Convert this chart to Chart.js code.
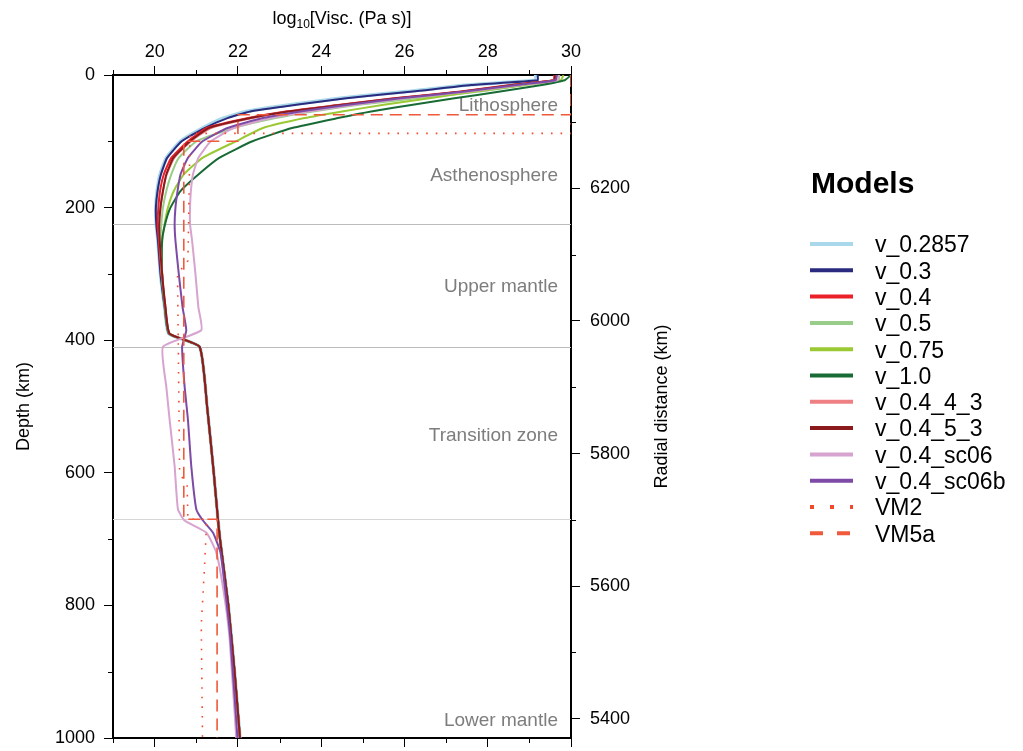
<!DOCTYPE html>
<html>
<head>
<meta charset="utf-8">
<title>Viscosity profiles</title>
<script src="https://cdn.jsdelivr.net/npm/chart.js@4.4.1/dist/chart.umd.min.js"></script>
<style>
  html, body { margin: 0; padding: 0; background: #fff; }
  #wrap { width: 1023px; height: 751px; }
</style>
</head>
<body>
<div id="wrap"><canvas id="chart" width="1023" height="751"></canvas></div>
<script>
const FONT = '"Liberation Sans", Arial, Helvetica, sans-serif';

// depth samples (km) for the plain v_ models
const depthV = [0, 8, 15, 25, 35, 45, 55, 65, 80, 100, 125, 150, 175, 200, 225,
                250, 300, 350, 390, 410, 500, 600, 670, 700, 800, 900, 1000];

// log10 viscosity (Pa s) at each depthV sample
const v0_2857  = [29.15, 29.15, 27.5, 26.05, 24.45, 23.25, 22.2, 21.65, 21.15, 20.62, 20.28, 20.13, 20.06, 20.03, 20.04,
                  20.08, 20.14, 20.24, 20.34, 21.08, 21.26, 21.42, 21.52, 21.57, 21.77, 21.92, 22.05];
const v0_3     = [29.2, 29.2, 27.6, 26.2, 24.6, 23.4, 22.3, 21.75, 21.2, 20.65, 20.3, 20.15, 20.07, 20.03, 20.04,
                  20.08, 20.14, 20.24, 20.34, 21.08, 21.26, 21.42, 21.52, 21.57, 21.77, 21.92, 22.05];
const v0_4     = [29.6, 29.58, 28.55, 27.35, 25.75, 24.45, 23.15, 22.25, 21.25, 20.8, 20.4, 20.22, 20.13, 20.09, 20.07,
                  20.1, 20.16, 20.25, 20.35, 21.08, 21.26, 21.42, 21.52, 21.57, 21.77, 21.92, 22.05];
const v0_5     = [29.72, 29.7, 28.9, 27.8, 26.3, 24.9, 23.8, 22.9, 21.9, 21.0, 20.58, 20.4, 20.28, 20.2, 20.16,
                  20.14, 20.17, 20.25, 20.35, 21.08, 21.26, 21.42, 21.52, 21.57, 21.77, 21.92, 22.05];
const v0_75    = [29.82, 29.75, 28.9, 27.7, 26.6, 25.5, 24.5, 23.6, 22.6, 21.95, 21.15, 20.7, 20.46, 20.32, 20.24,
                  20.18, 20.18, 20.25, 20.35, 21.08, 21.26, 21.42, 21.52, 21.57, 21.77, 21.92, 22.05];
const v1_0     = [30.0, 29.85, 29.3, 28.3, 27.2, 26.2, 25.2, 24.4, 23.3, 22.35, 21.55, 21.05, 20.62, 20.38, 20.25,
                  20.18, 20.18, 20.25, 20.35, 21.08, 21.26, 21.42, 21.52, 21.57, 21.77, 21.92, 22.05];
const v0_4_4_3 = [29.64, 29.62, 28.65, 27.45, 25.85, 24.55, 23.25, 22.35, 21.35, 20.87, 20.47, 20.29, 20.2, 20.14, 20.11,
                  20.12, 20.18, 20.26, 20.36, 21.08, 21.26, 21.42, 21.52, 21.57, 21.77, 21.92, 22.05];
const v0_4_5_3 = [29.62, 29.6, 28.6, 27.4, 25.8, 24.5, 23.2, 22.3, 21.3, 20.85, 20.45, 20.28, 20.2, 20.14, 20.11,
                  20.12, 20.18, 20.26, 20.36, 21.08, 21.26, 21.42, 21.52, 21.57, 21.77, 21.92, 22.05];

// depth samples (km) for the sc06 variants
const depthSc = [0, 8, 15, 25, 35, 45, 55, 65, 80, 100, 125, 150, 175, 200, 225,
                 250, 300, 350, 385, 410, 470, 520, 590, 655, 672, 690, 720, 780, 850, 1000];
const v0_4_sc06  = [29.7, 29.68, 28.8, 27.55, 26.0, 24.8, 23.7, 22.8, 21.9, 21.35, 21.05, 20.92, 20.87, 20.85, 20.85,
                    20.9, 20.98, 21.05, 21.12, 20.2, 20.28, 20.36, 20.48, 20.56, 20.72, 21.24, 21.48, 21.66, 21.8, 21.96];
const v0_4_sc06b = [29.66, 29.63, 28.7, 27.45, 25.9, 24.65, 23.5, 22.6, 21.75, 21.15, 20.8, 20.62, 20.55, 20.5, 20.48,
                    20.5, 20.58, 20.67, 20.76, 20.66, 20.72, 20.8, 20.88, 21.0, 21.16, 21.4, 21.58, 21.7, 21.82, 21.99];

// reference profiles
const vm2Depth  = [0, 88, 88, 280, 300, 600, 620, 670, 670, 740, 830, 1000];
const vm2Visc   = [30, 30, 20.85, 20.8, 20.55, 20.6, 20.78, 20.8, 21.25, 21.2, 21.12, 21.15];
const vm5aDepth = [0, 60, 60, 100, 100, 670, 670, 1000];
const vm5aVisc  = [30, 30, 22, 22, 20.7, 20.7, 21.5, 21.5];

// axes
const viscTicks   = [20, 22, 24, 26, 28, 30];
const viscMinor   = [19, 21, 23, 25, 27, 29];
const depthTicks  = [0, 200, 400, 600, 800, 1000];
const depthMinor  = [100, 300, 500, 700, 900];
const radiusTicks = [6200, 6000, 5800, 5600, 5400];
const radiusMinor = [6300, 6100, 5900, 5700, 5500];
const earthRadius = 6371;

// layer boundaries (km) and layer names
const boundaryDepths = [224, 410, 670];
const regionNames = ['Lithosphere', 'Asthenosphere', 'Upper mantle', 'Transition zone', 'Lower mantle'];

const models = [
  { label: 'v_0.2857',    depth: depthV,    visc: v0_2857,    color: '#a9d8ea', width: 3.5 },
  { label: 'v_0.3',       depth: depthV,    visc: v0_3,       color: '#2a2b7f', width: 2 },
  { label: 'v_0.4',       depth: depthV,    visc: v0_4,       color: '#ea2128', width: 2 },
  { label: 'v_0.5',       depth: depthV,    visc: v0_5,       color: '#98ce89', width: 2 },
  { label: 'v_0.75',      depth: depthV,    visc: v0_75,      color: '#9ac934', width: 2 },
  { label: 'v_1.0',       depth: depthV,    visc: v1_0,       color: '#186b35', width: 2 },
  { label: 'v_0.4_4_3',   depth: depthV,    visc: v0_4_4_3,   color: '#ee8084', width: 2 },
  { label: 'v_0.4_5_3',   depth: depthV,    visc: v0_4_5_3,   color: '#8a1a1c', width: 2 },
  { label: 'v_0.4_sc06',  depth: depthSc,   visc: v0_4_sc06,  color: '#d7a3cf', width: 2 },
  { label: 'v_0.4_sc06b', depth: depthSc,   visc: v0_4_sc06b, color: '#7d4aa6', width: 2 },
  { label: 'VM2',         depth: vm2Depth,  visc: vm2Visc,    color: '#f2492c', width: 1.6, dash: [1.6, 8], legendDash: [4, 16] },
  { label: 'VM5a',        depth: vm5aDepth, visc: vm5aVisc,   color: '#f0593b', width: 1.6, dash: [12, 7], legendDash: [13, 14] }
];

const datasets = models.map((m, i) => ({
  label: m.label,
  data: m.depth.map((d, k) => ({ x: m.visc[k], y: d })),
  borderColor: m.color,
  backgroundColor: m.color,
  borderWidth: m.width,
  borderDash: m.dash || [],
  legendDash: m.legendDash || [],
  pointRadius: 0,
  tension: m.dash ? 0 : 0.15,
  fill: false,
  order: -i
}));

function tickOpts(len) {
  return { drawOnChartArea: false, drawTicks: true, tickLength: len, tickColor: '#000', tickWidth: 1 };
}

// fixed box size per axis, and no extra room for overhanging labels
function fixSize(dim, px) {
  return s => {
    s[dim] = px;
    s.paddingTop = s.paddingBottom = s.paddingLeft = s.paddingRight = 0;
  };
}

const decor = {
  id: 'decor',
  beforeDatasetsDraw(chart) {
    const { ctx, chartArea: a, scales } = chart;
    ctx.save();
    ctx.lineWidth = 1.2;
    boundaryDepths.forEach((d, i) => {
      const y = Math.round(scales.y.getPixelForValue(d)) + 0.5;
      ctx.strokeStyle = i === 2 ? '#d6d6d6' : '#bcbcbc';
      ctx.beginPath();
      ctx.moveTo(a.left, y);
      ctx.lineTo(a.right, y);
      ctx.stroke();
    });
    // layer names, baseline depths in km
    const nameDepths = [55, 160, 327, 552, 982];
    ctx.fillStyle = '#7d7d7d';
    ctx.font = '19px ' + FONT;
    ctx.textAlign = 'right';
    ctx.textBaseline = 'alphabetic';
    regionNames.forEach((name, i) => {
      ctx.fillText(name, a.right - 13, scales.y.getPixelForValue(nameDepths[i]));
    });
    ctx.restore();
  },
  afterDraw(chart) {
    const { ctx, chartArea: a, scales } = chart;
    ctx.save();
    // minor ticks
    ctx.strokeStyle = '#000';
    ctx.lineWidth = 1;
    ctx.beginPath();
    viscMinor.forEach(v => {
      const x = Math.round(scales.x.getPixelForValue(v)) + 0.5;
      ctx.moveTo(x, a.top); ctx.lineTo(x, a.top - 5);
      ctx.moveTo(x, a.bottom); ctx.lineTo(x, a.bottom + 5);
    });
    depthMinor.forEach(d => {
      const y = Math.round(scales.y.getPixelForValue(d)) + 0.5;
      ctx.moveTo(a.left, y); ctx.lineTo(a.left - 5, y);
    });
    radiusMinor.forEach(r => {
      const y = Math.round(scales.y.getPixelForValue(earthRadius - r)) + 0.5;
      ctx.moveTo(a.right, y); ctx.lineTo(a.right + 5, y);
    });
    ctx.stroke();

    // top axis title with subscript
    ctx.fillStyle = '#000';
    ctx.textBaseline = 'alphabetic';
    ctx.textAlign = 'left';
    const big = '18px ' + FONT, small = '12px ' + FONT;
    ctx.font = big;
    const w1 = ctx.measureText('log').width;
    const w3 = ctx.measureText('[Visc. (Pa s)]').width;
    ctx.font = small;
    const w2 = ctx.measureText('10').width;
    let x = (a.left + a.right) / 2 - (w1 + w2 + w3) / 2;
    const base = 24;
    ctx.font = big;
    ctx.fillText('log', x, base);
    x += w1;
    ctx.font = small;
    ctx.fillText('10', x, base + 4);
    x += w2;
    ctx.font = big;
    ctx.fillText('[Visc. (Pa s)]', x, base);

    // side titles
    const midY = (a.top + a.bottom) / 2;
    ctx.textAlign = 'center';
    ctx.textBaseline = 'middle';
    ctx.font = '18px ' + FONT;
    ctx.save();
    ctx.translate(24, midY);
    ctx.rotate(-Math.PI / 2);
    ctx.fillText('Depth (km)', 0, 0);
    ctx.restore();
    ctx.save();
    ctx.translate(662, midY);
    ctx.rotate(-Math.PI / 2);
    ctx.fillText('Radial distance (km)', 0, 0);
    ctx.restore();

    // legend
    ctx.textAlign = 'left';
    ctx.textBaseline = 'alphabetic';
    ctx.font = 'bold 30px ' + FONT;
    ctx.fillText('Models', 811, 193);
    ctx.font = '23px ' + FONT;
    chart.data.datasets.forEach((ds, i) => {
      const y = 244 + i * 26.3;
      ctx.strokeStyle = ds.borderColor;
      ctx.lineWidth = 4;
      ctx.setLineDash(ds.legendDash);
      ctx.beginPath();
      ctx.moveTo(810, y);
      ctx.lineTo(853, y);
      ctx.stroke();
      ctx.setLineDash([]);
      ctx.fillStyle = '#000';
      ctx.fillText(ds.label, 875, y + 8.3);
    });
    ctx.restore();
  }
};

new Chart(document.getElementById('chart'), {
  type: 'line',
  data: { datasets },
  options: {
    indexAxis: 'y',
    responsive: false,
    animation: false,
    devicePixelRatio: 1,
    layout: { padding: 0 },
    plugins: { legend: { display: false }, tooltip: { enabled: false } },
    scales: {
      x: {
        type: 'linear', position: 'top', min: 19, max: 30,
        afterBuildTicks: s => { s.ticks = viscTicks.map(v => ({ value: v })); },
        afterFit: fixSize('height', 75),
        grid: tickOpts(9),
        border: { display: true, color: '#000', width: 2 },
        ticks: { color: '#000', padding: 3, maxRotation: 0, font: { size: 18, family: FONT },
                 callback: v => String(v) }
      },
      xb: {
        type: 'linear', position: 'bottom', min: 19, max: 30,
        afterBuildTicks: s => { s.ticks = viscTicks.map(v => ({ value: v })); },
        afterFit: fixSize('height', 13),
        grid: tickOpts(9),
        border: { display: true, color: '#000', width: 2 },
        ticks: { display: false }
      },
      y: {
        type: 'linear', position: 'left', min: 0, max: 1000, reverse: true,
        afterBuildTicks: s => { s.ticks = depthTicks.map(v => ({ value: v })); },
        afterFit: fixSize('width', 113),
        grid: tickOpts(9),
        border: { display: true, color: '#000', width: 2 },
        ticks: { color: '#000', padding: 9, font: { size: 18, family: FONT },
                 callback: v => String(v) }
      },
      yr: {
        type: 'linear', position: 'right', min: 0, max: 1000, reverse: true,
        afterBuildTicks: s => { s.ticks = radiusTicks.map(r => ({ value: earthRadius - r })); },
        afterFit: fixSize('width', 452),
        grid: tickOpts(9),
        border: { display: true, color: '#000', width: 2 },
        ticks: {
          color: '#000', padding: 10, font: { size: 18, family: FONT },
          callback: v => String(earthRadius - v)
        }
      }
    }
  },
  plugins: [decor]
});
</script>
</body>
</html>
